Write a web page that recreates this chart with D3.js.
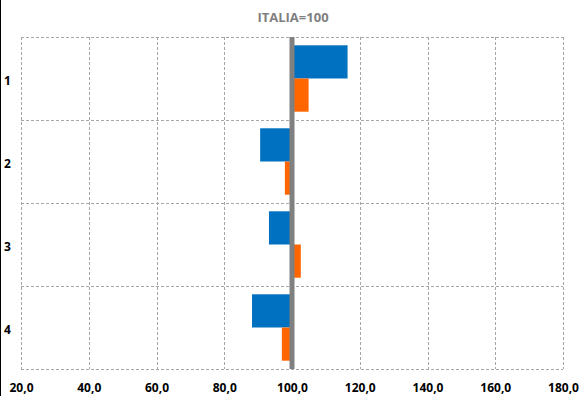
<!DOCTYPE html>
<html>
<head>
<meta charset="utf-8">
<script src="https://cdn.jsdelivr.net/npm/d3@7"></script>
<style>
  html, body { margin: 0; padding: 0; background: #fff; }
  svg { display: block; font-family: "Open Sans", "Liberation Sans", sans-serif; }
</style>
</head>
<body>
<div id="chart"></div>
<script>
const categories = ["1", "2", "3", "4"];
const seriesA = [116.4, 90.6, 93.2, 88.2];   // blue
const seriesB = [104.9, 97.9, 102.6, 97.0];  // orange
const xTicks = [20, 40, 60, 80, 100, 120, 140, 160, 180];
const baseline = 100;

const W = 587, H = 396;
const margin = { top: 37, right: 24, bottom: 27, left: 21 };
const width = W - margin.left - margin.right;
const height = H - margin.top - margin.bottom;

const svg = d3.select("#chart")
    .append("svg")
    .attr("width", W)
    .attr("height", H);

// left edge line of the picture
svg.append("line")
    .attr("x1", 0.5).attr("x2", 0.5)
    .attr("y1", 0).attr("y2", H)
    .attr("stroke", "#000");

svg.append("text")
    .attr("x", 293)
    .attr("y", 22)
    .attr("text-anchor", "middle")
    .attr("font-size", 13)
    .attr("font-weight", "bold")
    .attr("fill", "#7f7f7f")
    .text("ITALIA=100");

const g = svg.append("g")
    .attr("transform", `translate(${margin.left},${margin.top})`);

const x = d3.scaleLinear().domain([20, 180]).range([0, width]);
const y = d3.scaleBand().domain(categories).range([0, height])
    .paddingInner(0.2).paddingOuter(0.1);
const sub = d3.scaleBand().domain(["a", "b"]).range([0, y.bandwidth()]);

// gridlines
const grid = "#a6a6a6";
g.selectAll(".vgrid")
    .data(xTicks)
    .enter().append("line")
    .attr("x1", d => Math.round(x(d)) + 0.5)
    .attr("x2", d => Math.round(x(d)) + 0.5)
    .attr("y1", 0).attr("y2", height)
    .attr("stroke", grid)
    .attr("stroke-dasharray", "3,2");

g.selectAll(".hgrid")
    .data(d3.range(categories.length + 1))
    .enter().append("line")
    .attr("x1", 0).attr("x2", width)
    .attr("y1", i => Math.round(i * height / categories.length) + 0.5)
    .attr("y2", i => Math.round(i * height / categories.length) + 0.5)
    .attr("stroke", grid)
    .attr("stroke-dasharray", "3,2");

// bars
const rows = categories.map((c, i) => ({ c, a: seriesA[i], b: seriesB[i] }));

g.selectAll(".barA")
    .data(rows)
    .enter().append("rect")
    .attr("x", d => x(Math.min(d.a, baseline)))
    .attr("width", d => Math.abs(x(d.a) - x(baseline)))
    .attr("y", d => y(d.c) + sub("a"))
    .attr("height", sub.bandwidth())
    .attr("fill", "#0070c0");

g.selectAll(".barB")
    .data(rows)
    .enter().append("rect")
    .attr("x", d => x(Math.min(d.b, baseline)))
    .attr("width", d => Math.abs(x(d.b) - x(baseline)))
    .attr("y", d => y(d.c) + sub("b"))
    .attr("height", sub.bandwidth())
    .attr("fill", "#ff6600");

// baseline at 100
g.append("line")
    .attr("x1", x(baseline)).attr("x2", x(baseline))
    .attr("y1", 0).attr("y2", height)
    .attr("stroke", "#808080")
    .attr("stroke-width", 5);

// axes labels
const xAxis = g.append("g")
    .attr("transform", `translate(0,${height})`)
    .call(d3.axisBottom(x).tickValues(xTicks).tickSize(0).tickPadding(14)
        .tickFormat(d => d3.format(".1f")(d).replace(".", ",")));
xAxis.select(".domain").remove();
xAxis.selectAll("text")
    .attr("font-size", 12)
    .attr("font-weight", "bold")
    .attr("fill", "#000")
    .attr("font-family", "\"Open Sans\", \"Liberation Sans\", sans-serif");

const yAxis = g.append("g")
    .call(d3.axisLeft(y).tickSize(0).tickPadding(0));
yAxis.select(".domain").remove();
yAxis.selectAll("text")
    .attr("x", -margin.left + 4)
    .attr("dy", "0.55em")
    .attr("text-anchor", "start")
    .attr("font-size", 12)
    .attr("font-weight", "bold")
    .attr("fill", "#000")
    .attr("font-family", "\"Open Sans\", \"Liberation Sans\", sans-serif");
</script>
</body>
</html>
